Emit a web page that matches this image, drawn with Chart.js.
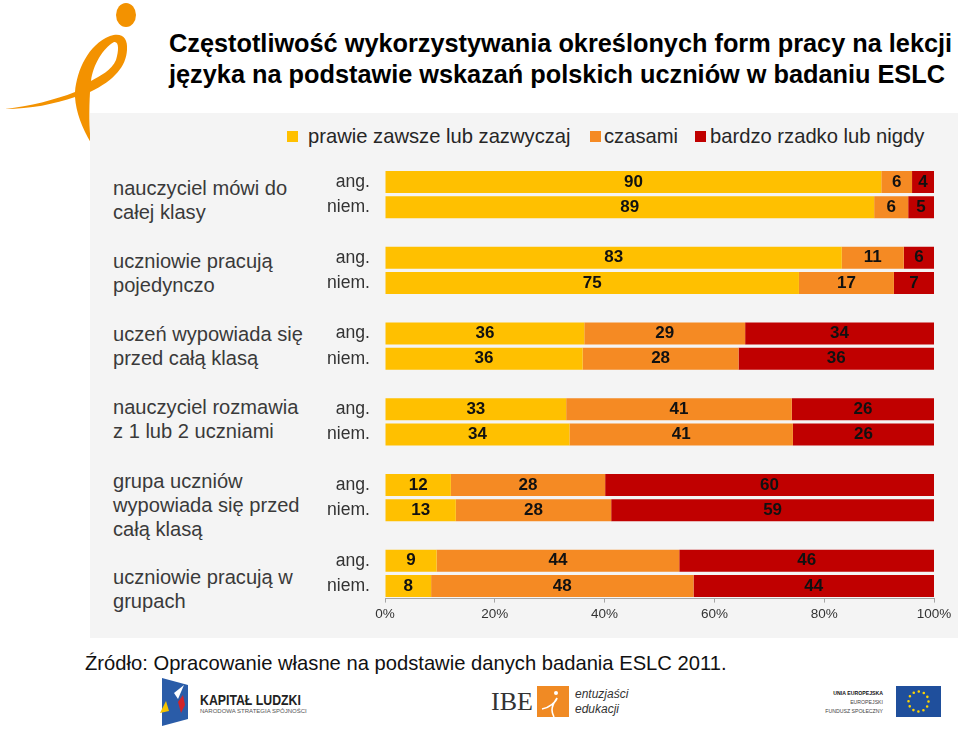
<!DOCTYPE html>
<html lang="pl">
<head>
<meta charset="utf-8">
<script src="https://cdn.jsdelivr.net/npm/chart.js@4"></script>
<style>
  body { margin: 0; background: #fff; font-family: "Liberation Sans", sans-serif; }
  #page { position: relative; width: 960px; height: 730px; overflow: hidden; }
  #page > * { position: absolute; }
  #panel { left: 90px; top: 113px; width: 868px; height: 525px; background: #f4f4f4; }
  #title { left: 169px; top: 28px; font-size: 25.3px; line-height: 31px; font-weight: bold; color: #000; white-space: nowrap; }
  #legend span { position: absolute; top: 125px; font-size: 20.2px; line-height: 23px; color: #262626; white-space: nowrap; }
  #legend i { position: absolute; top: 131px; width: 11px; height: 11px; }
  .group { left: 113px; font-size: 20.1px; line-height: 24px; color: #3a3a3a; white-space: pre; }
  #chart { left: 280px; top: 160px; }
  #source { left: 85px; top: 651px; font-size: 20.2px; line-height: 24px; color: #111; white-space: nowrap; }
  .logo { white-space: nowrap; }
</style>
</head>
<body>
<div id="page">
  <svg style="left:0;top:0" width="140" height="150" viewBox="0 0 140 150">
    <ellipse cx="126" cy="15" rx="10" ry="12" fill="#f39200"/>
    <path fill="#f39200" fill-rule="evenodd" d="M5 109 C30 106 55 100 75 92 C77 70 88 45 110 36 C122 32 128 38 127 50 C126 66 115 80 90 92 C89 110 89 128 91 143 C82 128 76 112 75 97 C55 104 30 109 5 109 Z M91 81 C93 65 103 48 114 42 C119 41 119 50 116 60 C112 70 100 76 91 81 Z"/>
  </svg>
  <div id="panel"></div>
  <div id="title">Częstotliwość wykorzystywania określonych form pracy na lekcji<br>języka na podstawie wskazań polskich uczniów w badaniu ESLC</div>
  <div id="legend" style="left:0;top:0"></div>
  <div id="groups" style="left:0;top:0"></div>
  <canvas id="chart" width="678" height="460"></canvas>
  <div id="source">Źródło: Opracowanie własne na podstawie danych badania ESLC 2011.</div>

  <svg style="left:158px;top:677px" width="32" height="50" viewBox="0 0 32 50">
    <path d="M4 1 L30 8 L30 42 L4 49 Z" fill="#2a5ca8"/>
    <path d="M2 36 L8 24 L11 34 Z" fill="#f5c400"/>
    <path d="M16 16 L26 8 L20 22 Z" fill="#fff"/>
    <path d="M20 25 L25 18 L27 28 L23 36 Z" fill="#d2232a"/>
  </svg>
  <div class="logo" style="left:200px;top:692px;font-size:15px;line-height:16px;font-weight:bold;color:#222;transform-origin:0 0;transform:scaleX(.82)">KAPITAŁ LUDZKI</div>
  <div class="logo" style="left:200px;top:707px;font-size:6px;line-height:9px;color:#555">NARODOWA STRATEGIA SPÓJNOŚCI</div>
  <div class="logo" style="left:491px;top:686px;font-family:'Liberation Serif',serif;font-size:26px;line-height:32px;color:#333">IBE</div>
  <svg style="left:537px;top:686px" width="32" height="31" viewBox="0 0 32 31">
    <rect width="32" height="31" fill="#f08a24"/>
    <circle cx="19" cy="7" r="2" fill="#fff"/>
    <path d="M5 23 C12 22 19 16 20 12 C19 14 15 18 15 24 C15 27 16 29 17 31" fill="none" stroke="#fff" stroke-width="1.6"/>
  </svg>
  <div class="logo" style="left:575px;top:687px;font-size:12px;line-height:15px;font-style:italic;color:#333">entuzjaści<br>edukacji</div>
  <div class="logo" style="left:800px;top:689px;width:83px;text-align:right;font-size:5.2px;line-height:9px;color:#444"><b style="color:#111">UNIA EUROPEJSKA</b><br>EUROPEJSKI<br>FUNDUSZ SPOŁECZNY</div>
  <svg style="left:896px;top:686px" width="45" height="31" viewBox="0 0 45 31">
    <rect width="45" height="31" fill="#1f4f9c"/>
    <circle cx="22.5" cy="15.5" r="10" fill="none" stroke="#ffd500" stroke-width="2.6" stroke-linecap="round" stroke-dasharray="0 5.236"/>
  </svg>
</div>

<script>
const countries = ['ang.', 'niem.'];
const groupNames = [
  'nauczyciel mówi do\ncałej klasy',
  'uczniowie pracują\npojedynczo',
  'uczeń wypowiada się\nprzed całą klasą',
  'nauczyciel rozmawia\nz 1 lub 2 uczniami',
  'grupa uczniów\nwypowiada się przed\ncałą klasą',
  'uczniowie pracują w\ngrupach'
];
const groupTops = [176, 249, 322, 395, 469, 565];

const seriesNames = ['prawie zawsze lub zazwyczaj', 'czasami', 'bardzo rzadko lub nigdy'];
const seriesColors = ['#ffc000', '#f58a23', '#c00000'];
const legendBoxX = [287, 590, 695];
const legendTextX = [308, 604, 710];

// ang, niem for each group; bar lengths, labels are rounded
const often = [90.4, 89.1, 83.2, 75.4, 36.3, 36.0, 33.0, 33.6, 12.0, 12.9, 9.4, 8.4];
const sometimes = [5.6, 6.2, 11.3, 17.3, 29.3, 28.4, 41.1, 40.7, 28.1, 28.3, 44.2, 47.8];
const rarely = [4.0, 4.7, 5.5, 7.3, 34.4, 35.6, 25.9, 25.7, 59.9, 58.8, 46.4, 43.8];

// a blank row between the pairs gives the gaps
function withGaps(values) {
  const out = [];
  values.forEach((v, i) => {
    out.push(v);
    if (i % 2 == 1 && i < values.length - 1) out.push(null);
  });
  return out;
}

const rowLabels = withGaps(often.map((v, i) => countries[i % 2])).map(l => l || '');

let legendHtml = '';
seriesNames.forEach((name, i) => {
  legendHtml += '<i style="left:' + legendBoxX[i] + 'px;background:' + seriesColors[i] + '"></i>';
  legendHtml += '<span style="left:' + legendTextX[i] + 'px">' + name + '</span>';
});
document.getElementById('legend').innerHTML = legendHtml;

document.getElementById('groups').innerHTML = groupNames.map((g, i) =>
  '<div class="group" style="position:absolute;top:' + groupTops[i] + 'px">' + g + '</div>').join('');

const barLabels = {
  id: 'barLabels',
  afterDatasetsDraw(chart) {
    const ctx = chart.ctx;
    ctx.save();
    ctx.font = 'bold 17px "Liberation Sans"';
    ctx.fillStyle = '#111';
    ctx.textAlign = 'center';
    ctx.textBaseline = 'middle';
    chart.data.datasets.forEach((ds, d) => {
      chart.getDatasetMeta(d).data.forEach((bar, i) => {
        if (ds.data[i] == null) return;
        ctx.fillText(Math.round(ds.data[i]), (bar.x + bar.base) / 2, bar.y);
      });
    });
    ctx.restore();
  }
};

new Chart(document.getElementById('chart'), {
  type: 'bar',
  plugins: [barLabels],
  data: {
    labels: rowLabels,
    datasets: [
      { label: seriesNames[0], data: withGaps(often), backgroundColor: seriesColors[0] },
      { label: seriesNames[1], data: withGaps(sometimes), backgroundColor: seriesColors[1] },
      { label: seriesNames[2], data: withGaps(rarely), backgroundColor: seriesColors[2] }
    ]
  },
  options: {
    indexAxis: 'y',
    responsive: false,
    animation: false,
    devicePixelRatio: 1,
    layout: { autoPadding: false, padding: { top: 9.4, right: 24, left: 0, bottom: 0 } },
    datasets: { bar: { barPercentage: 0.87, categoryPercentage: 1 } },
    plugins: { legend: { display: false }, tooltip: { enabled: false } },
    scales: {
      x: {
        stacked: true,
        min: 0,
        max: 100,
        afterFit(scale) { scale.height = 21.4; },
        grid: { drawOnChartArea: false, tickLength: 4, color: '#a6a6a6' },
        border: { color: '#a6a6a6' },
        ticks: {
          stepSize: 20,
          maxRotation: 0,
          padding: 4,
          color: '#333',
          font: { family: 'Liberation Sans', size: 13.5 },
          callback: v => v + '%'
        }
      },
      y: {
        stacked: true,
        afterFit(scale) {
          scale.width = 105;
          scale.paddingTop = 0;
          scale.paddingBottom = 0;
        },
        grid: { display: false },
        border: { display: false },
        ticks: {
          autoSkip: false,
          padding: 7,
          color: '#333',
          font: { family: 'Liberation Sans', size: 17.6 }
        }
      }
    }
  }
});
</script>
</body>
</html>
